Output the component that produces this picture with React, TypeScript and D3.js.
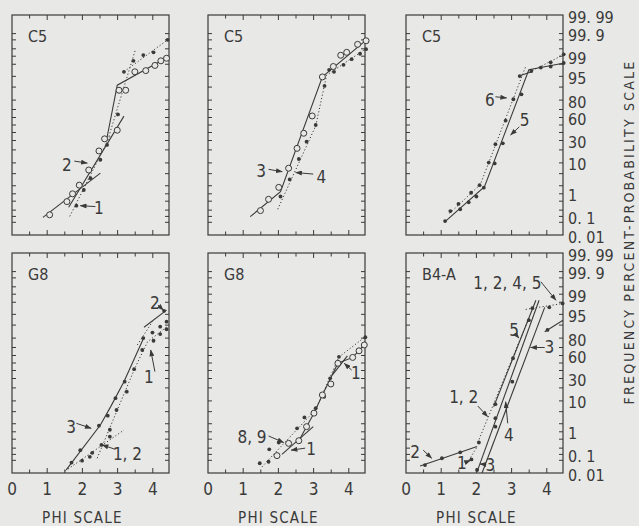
import React, { useEffect, useRef } from "react";
import * as d3 from "d3";

// probability paper: tick marks and labelled percents
const minorPct = [99.9, 99.8, 99.5, 99, 98, 95, 90, 80, 70, 60, 50, 40, 30, 20, 10, 5, 2, 1, 0.5, 0.2, 0.1, 0.05];
const pctLabelVals = [99.99, 99.9, 99, 95, 80, 60, 30, 10, 1, 0.1, 0.01];
const pctLabelText = ["99. 99", "99. 9", "99", "95", "80", "60", "30", "10", "1", "0. 1", "0. 01"];
const phiTicks = [0.5, 1, 1.5, 2, 2.5, 3, 3.5, 4];
const phiLabels = [0, 1, 2, 3, 4];
const titles = ["C5", "C5", "C5", "G8", "G8", "B4-A"];

// [phi, percent]
// panel 1 - C5
const p1Rings = [[1.07, 0.12], [1.56, 0.48], [1.72, 1.0], [1.91, 2.1], [2.18, 6.4], [2.47, 19], [2.63, 32], [2.99, 43], [3.04, 88], [3.23, 88], [3.49, 96.4], [3.8, 96.7], [4.06, 97.8], [4.23, 98.5], [4.39, 98.8]];
const p1Dots = [[1.83, 0.32], [2.04, 1.4], [2.23, 3.6], [2.51, 12], [2.7, 25], [3.01, 64], [3.18, 96.4], [3.45, 98.5], [3.73, 99.1], [4.02, 99.3], [4.42, 99.8]];
const p1Solid = [[[0.88, 0.09], [2.51, 5.2]], [[1.61, 0.27], [3.18, 61.8]], [[2.69, 31.5], [2.99, 91.1], [4.42, 98.9]]];
const p1Dotted = [[[1.64, 0.1], [2.8, 36.7]], [[2.75, 34.8], [3.51, 99.48]], [[3.18, 96.4], [4.42, 99.8]]];
const p1Notes = [
  { t: "2", at: [1.56, 8.8], from: [1.77, 11.1], to: [2.14, 9.9] },
  { t: "1", at: [2.47, 0.24], from: [2.37, 0.29], to: [1.94, 0.32] },
];

// panel 2 - C5
const p2Rings = [[1.49, 0.19], [1.72, 0.6], [2.01, 1.75], [2.29, 7.2], [2.53, 21.5], [2.72, 39], [2.96, 62], [3.25, 94.8], [3.56, 97.6], [3.77, 99.08], [3.94, 99.3], [4.25, 99.68], [4.49, 99.78]];
const p2Dots = [[2.06, 0.78], [2.32, 3.3], [2.58, 12.5], [2.8, 28.6], [3.06, 50], [3.31, 90.7], [3.44, 96.9], [3.58, 96.4], [3.85, 97.9], [4.08, 98.7], [4.32, 99.2], [4.49, 99.48]];
const p2Solid = [[[1.2, 0.097], [2.06, 1.2], [3.25, 94.8], [4.5, 99.8]]];
const p2Dotted = [[[1.98, 0.22], [3.06, 48.8], [3.37, 95.4], [4.5, 99.52]]];
const p2Notes = [
  { t: "3", at: [1.51, 6.1], from: [1.72, 6.7], to: [2.11, 5.7] },
  { t: "4", at: [3.22, 4.0], from: [2.99, 4.85], to: [2.49, 5.4] },
];

// panel 3 - C5
const p3Dots5 = [[1.11, 0.058], [1.54, 0.22], [1.78, 0.45], [2.0, 0.78], [2.21, 1.7], [2.52, 9.7], [2.75, 26.8], [3.28, 85], [3.56, 96.6], [4.11, 97.6], [4.48, 98.2]];
const p3Dots6 = [[1.26, 0.18], [1.49, 0.38], [1.85, 1.1], [2.09, 2.1], [2.35, 10.2], [2.54, 25.8], [2.83, 56], [3.05, 80.8], [3.23, 95.1], [3.83, 97.4], [4.11, 98.3], [4.48, 99.16]];
const p3Solid = [[[1.11, 0.054], [2.23, 1.85], [3.49, 96.9], [4.5, 98.2]], [[3.21, 95.1], [3.59, 96.5]]];
const p3Dotted = [[[1.24, 0.14], [2.11, 2.2], [3.4, 97.6]], [[3.59, 96.7], [4.5, 99.16]]];
const p3Notes = [
  { t: "6", at: [2.38, 80], from: [2.54, 83], to: [2.86, 82] },
  { t: "5", at: [3.37, 56.8], from: [3.22, 47.6], to: [2.97, 36.7] },
];

// panel 4 - G8
const p4Dots3 = [[1.69, 0.038], [1.94, 0.16], [2.47, 1.7], [2.72, 3.75], [2.94, 11.7], [3.2, 26.4], [3.73, 80], [4.32, 96.1]];
const p4DotsLow = [[1.99, 0.048], [2.21, 0.076], [2.28, 0.12], [2.54, 0.28], [2.78, 0.64], [2.78, 1.2], [2.97, 5.6], [3.26, 16.6], [3.47, 41.7], [3.7, 67], [3.99, 84.8], [4.21, 89], [4.39, 91.9]];
const p4Dots1 = [[4.02, 77.4], [4.21, 83.6], [4.39, 87.3]];
const p4Solid = [[[1.54, 0.015], [2.51, 1.8], [2.8, 6.9], [3.18, 26.4], [3.75, 80.8]], [[3.75, 88.7], [4.39, 96.3]]];
const p4Dotted = [[[2.42, 0.064], [2.99, 5.6], [3.51, 45], [3.85, 76.4], [4.39, 88.7]], [[1.51, 0.013], [3.18, 1.17]], [[3.56, 72.9], [3.99, 91.9]]];
const p4Notes = [
  { t: "2", at: [4.06, 97.8], from: [4.15, 97.5], to: [4.3, 96.3] },
  { t: "1", at: [3.89, 32], from: [4.06, 38.5], to: [3.94, 67] },
  { t: "3", at: [1.68, 1.57], from: [1.83, 2.07], to: [2.25, 1.36] },
  { t: "1, 2", at: [3.28, 0.11], from: [2.94, 0.175], to: [2.56, 0.28] },
];

// panel 5 - G8
const p5Dots = [[1.47, 0.035], [1.72, 0.042], [1.74, 0.175], [2.01, 0.36], [2.53, 1.36], [2.74, 3.3], [3.06, 6.3], [3.3, 12.7], [3.47, 30.2], [3.72, 58.3], [4.47, 80.8]];
const p5Rings = [[1.96, 0.087], [2.29, 0.33], [2.58, 0.43], [2.8, 1.57], [3.01, 4.5], [3.25, 14], [3.49, 23.9], [3.69, 49.6], [4.11, 57.5], [4.29, 66], [4.44, 72.9]];
const p5Solid = [[[2.1, 0.1], [2.99, 1.57]], [[2.58, 0.43], [3.01, 4.5], [3.25, 14], [3.69, 49.6], [4.11, 57.5], [4.44, 72.9]], [[3.53, 34], [3.96, 59.5]]];
const p5Dotted = [[[1.53, 0.022], [3.06, 5.8], [3.72, 58], [4.47, 81.3]]];
const p5Notes = [
  { t: "8, 9", at: [1.25, 0.64], from: [1.72, 0.68], to: [2.15, 0.36] },
  { t: "1", at: [2.93, 0.175], from: [2.76, 0.2], to: [2.36, 0.16] },
  { t: "1", at: [4.2, 37], from: [4.08, 40.5], to: [3.87, 49.6] },
];

// panel 6 - B4-A
const p6Dots = [[0.54, 0.028], [1.02, 0.064], [1.54, 0.126], [2.07, 0.36], [1.86, 0.056], [2.02, 0.015], [2.54, 1.57], [2.54, 3.1], [2.54, 8.2], [3.02, 26.4], [3.04, 56.4], [3.49, 92.6], [3.59, 96.8], [4.02, 86.8], [4.07, 97], [4.45, 97.8]];
const p6Solid = [[[0.4, 0.025], [2.02, 0.24]], [[2.49, 6.9], [3.69, 98.3]], [[2.02, 0.012], [3.78, 98.3]], [[2.16, 0.01], [3.94, 97]], [[3.94, 85.5], [4.46, 92.6]]];
const p6Dotted = [[[2.04, 0.36], [3.49, 93.5]], [[3.4, 96.5], [4.46, 97.8]], [[1.73, 0.035], [2.02, 0.23]]];
const p6Notes = [
  { t: "1, 2, 4, 5", at: [2.88, 99.65], from: [3.83, 99.7], to: [4.26, 98.3] },
  { t: "5", at: [3.07, 86.8], from: [3.1, 84], to: [3.21, 80] },
  { t: "3", at: [4.07, 71], from: [3.94, 70], to: [3.54, 70] },
  { t: "1, 2", at: [1.64, 12.7], from: [2.04, 7.3], to: [2.32, 3.5] },
  { t: "4", at: [2.92, 0.75], from: [2.89, 2.07], to: [2.83, 9.5] },
  { t: "2", at: [0.26, 0.126], from: [0.49, 0.16], to: [0.73, 0.064] },
  { t: "1", at: [1.59, 0.035], from: [1.7, 0.04], to: [1.83, 0.05] },
  { t: "3", at: [2.4, 0.028], from: [2.28, 0.03], to: [2.1, 0.032] },
];

const panels = [
  { dots: [p1Dots], rings: [p1Rings], solid: p1Solid, dotted: p1Dotted, notes: p1Notes },
  { dots: [p2Dots], rings: [p2Rings], solid: p2Solid, dotted: p2Dotted, notes: p2Notes },
  { dots: [p3Dots5, p3Dots6], rings: [], solid: p3Solid, dotted: p3Dotted, notes: p3Notes },
  { dots: [p4Dots3, p4DotsLow, p4Dots1], rings: [], solid: p4Solid, dotted: p4Dotted, notes: p4Notes },
  { dots: [p5Dots], rings: [p5Rings], solid: p5Solid, dotted: p5Dotted, notes: p5Notes },
  { dots: [p6Dots], rings: [], solid: p6Solid, dotted: p6Dotted, notes: p6Notes },
];

// inverse normal cdf (Acklam)
function probit(p: number): number {
  const a = [-39.69683028665376, 220.9460984245205, -275.9285104469687, 138.357751867269, -30.66479806614716, 2.506628277459239];
  const b = [-54.47609879822406, 161.5858368580409, -155.6989798598866, 66.80131188771972, -13.28068155288572];
  const c = [-0.007784894002430293, -0.3223964580411365, -2.400758277161838, -2.549732539343734, 4.374664141464968, 2.938163982698783];
  const d = [0.007784695709041462, 0.3224671290700398, 2.445134137142996, 3.754408661907416];
  const lo = 0.02425;
  if (p < lo) {
    const q = Math.sqrt(-2 * Math.log(p));
    return (((((c[0] * q + c[1]) * q + c[2]) * q + c[3]) * q + c[4]) * q + c[5]) / ((((d[0] * q + d[1]) * q + d[2]) * q + d[3]) * q + 1);
  }
  if (p > 1 - lo) return -probit(1 - p);
  const q = p - 0.5;
  const r = q * q;
  return ((((((a[0] * r + a[1]) * r + a[2]) * r + a[3]) * r + a[4]) * r + a[5]) * q) / (((((b[0] * r + b[1]) * r + b[2]) * r + b[3]) * r + b[4]) * r + 1);
}

const W = 639;
const H = 526;
const INK = "#3a3a3a";
const FONT = "'Liberation Sans Narrow', 'DejaVu Sans Condensed', 'Liberation Sans', sans-serif";
const colLeft = [12, 208, 406];
const rowTop = [15, 253];
const pw = 157;
const ph = 220;

const App = () => {
  const ref = useRef<SVGSVGElement | null>(null);

  useEffect(() => {
    const svg = d3.select(ref.current);
    svg.selectAll("*").remove();

    svg.append("rect").attr("width", W).attr("height", H).attr("fill", "#e8e8e6");

    svg
      .append("defs")
      .append("marker")
      .attr("id", "ah")
      .attr("viewBox", "0 0 8 6")
      .attr("refX", 7.5)
      .attr("refY", 3)
      .attr("markerWidth", 7)
      .attr("markerHeight", 5)
      .attr("markerUnits", "userSpaceOnUse")
      .attr("orient", "auto")
      .append("path")
      .attr("d", "M0,0L8,3L0,6z")
      .attr("fill", INK);

    panels.forEach((p, i) => {
      const col = i % 3;
      const row = Math.floor(i / 3);
      const left = colLeft[col];
      const top = rowTop[row];

      const x = d3.scaleLinear().domain([0, 4.46]).range([left, left + pw]);
      const z = d3.scaleLinear().domain([probit(0.0001), probit(0.9999)]).range([top + ph, top]);
      const y = (pct: number) => z(probit(pct / 100));

      const g = svg.append("g");

      // frame
      g.append("rect")
        .attr("x", left)
        .attr("y", top)
        .attr("width", pw)
        .attr("height", ph)
        .attr("fill", "none")
        .attr("stroke", INK)
        .attr("stroke-width", 1.2);

      // ticks, pointing inward
      minorPct.forEach((v) => {
        const yy = y(v);
        g.append("line").attr("x1", left).attr("x2", left + 4).attr("y1", yy).attr("y2", yy).attr("stroke", INK);
        g.append("line").attr("x1", left + pw - 4).attr("x2", left + pw).attr("y1", yy).attr("y2", yy).attr("stroke", INK);
      });
      phiTicks.forEach((v) => {
        const xx = x(v);
        const len = Number.isInteger(v) ? 5 : 3.5;
        g.append("line").attr("x1", xx).attr("x2", xx).attr("y1", top).attr("y2", top + len).attr("stroke", INK);
        g.append("line").attr("x1", xx).attr("x2", xx).attr("y1", top + ph).attr("y2", top + ph - len).attr("stroke", INK);
      });

      const line = d3
        .line<number[]>()
        .x((d) => x(d[0]))
        .y((d) => y(d[1]));

      p.solid.forEach((s) => {
        g.append("path").attr("d", line(s)).attr("fill", "none").attr("stroke", INK).attr("stroke-width", 1.1);
      });
      p.dotted.forEach((s) => {
        g.append("path")
          .attr("d", line(s))
          .attr("fill", "none")
          .attr("stroke", INK)
          .attr("stroke-width", 1)
          .attr("stroke-dasharray", "1.2,2.2");
      });

      p.dots.forEach((set) => {
        g.selectAll(null)
          .data(set)
          .enter()
          .append("circle")
          .attr("cx", (d) => x(d[0]))
          .attr("cy", (d) => y(d[1]))
          .attr("r", 1.9)
          .attr("fill", INK);
      });
      p.rings.forEach((set) => {
        g.selectAll(null)
          .data(set)
          .enter()
          .append("circle")
          .attr("cx", (d) => x(d[0]))
          .attr("cy", (d) => y(d[1]))
          .attr("r", 3)
          .attr("fill", "#e8e8e6")
          .attr("stroke", INK)
          .attr("stroke-width", 1);
      });

      // curve labels with arrows
      p.notes.forEach((n) => {
        g.append("line")
          .attr("x1", x(n.from[0]))
          .attr("y1", y(n.from[1]))
          .attr("x2", x(n.to[0]))
          .attr("y2", y(n.to[1]))
          .attr("stroke", INK)
          .attr("stroke-width", 1)
          .attr("marker-end", "url(#ah)");
        g.append("text")
          .attr("x", x(n.at[0]))
          .attr("y", y(n.at[1]))
          .attr("text-anchor", "middle")
          .attr("dominant-baseline", "central")
          .attr("font-family", FONT)
          .attr("font-size", 17)
          .attr("fill", INK)
          .text(n.t);
      });

      // sample name
      g.append("text")
        .attr("x", left + 16)
        .attr("y", top + 27)
        .attr("font-family", FONT)
        .attr("font-size", 16)
        .attr("fill", INK)
        .text(titles[i]);

      // right probability labels
      if (col === 2) {
        pctLabelVals.forEach((v, k) => {
          g.append("text")
            .attr("x", left + pw + 5)
            .attr("y", y(v) + 2)
            .attr("dominant-baseline", "central")
            .attr("font-family", FONT)
            .attr("font-size", 16)
            .attr("fill", INK)
            .text(pctLabelText[k]);
        });
      }

      // phi labels on the lower row
      if (row === 1) {
        phiLabels.forEach((v) => {
          g.append("text")
            .attr("x", x(v))
            .attr("y", top + ph + 16)
            .attr("text-anchor", "middle")
            .attr("dominant-baseline", "central")
            .attr("font-family", FONT)
            .attr("font-size", 17)
            .attr("fill", INK)
            .text(v);
        });
        g.append("text")
          .attr("x", x(2))
          .attr("y", top + ph + 45)
          .attr("text-anchor", "middle")
          .attr("dominant-baseline", "central")
          .attr("font-family", FONT)
          .attr("font-size", 15)
          .attr("letter-spacing", 1.2)
          .attr("fill", INK)
          .text("PHI SCALE");
      }
    });

    svg
      .append("text")
      .attr("transform", `translate(629,232) rotate(-90)`)
      .attr("text-anchor", "middle")
      .attr("dominant-baseline", "central")
      .attr("font-family", FONT)
      .attr("font-size", 14)
      .attr("letter-spacing", 2.2)
      .attr("fill", INK)
      .text("FREQUENCY PERCENT-PROBABILITY SCALE");
  }, []);

  return <svg ref={ref} width={W} height={H} style={{ position: "absolute", left: 0, top: 0 }} />;
};

export default App;
